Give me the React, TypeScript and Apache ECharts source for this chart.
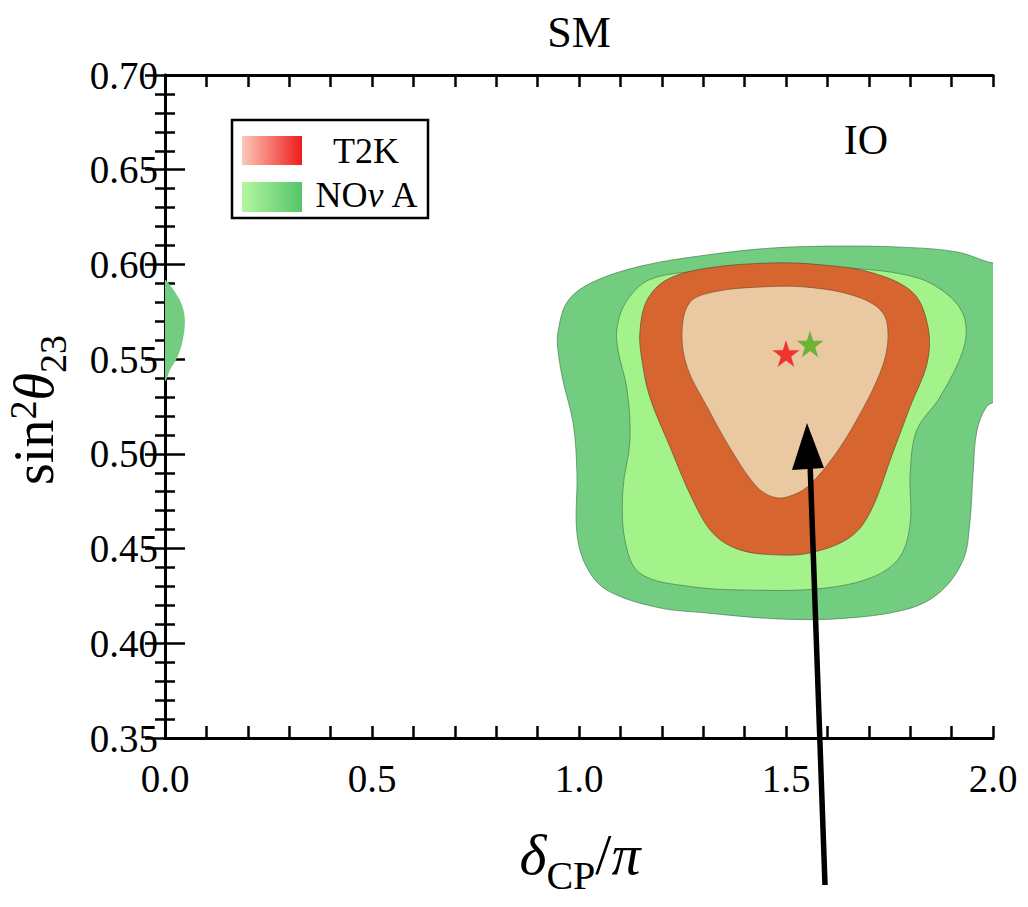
import React, { useEffect, useRef } from 'react';
import * as echarts from 'echarts';

const FONT = '"Liberation Serif", "DejaVu Serif", serif';

// Axis ranges and ticks
const xMin = 0, xMax = 2, xInterval = 0.5;
const yMin = 0.35, yMax = 0.70, yInterval = 0.05;

// Contours (delta_CP/pi, sin^2 theta_23)
const novaOuter: [number, number][] = [
  [0.949, 0.564], [0.949, 0.555], [0.961, 0.539], [0.986, 0.516], [0.995, 0.490],
  [0.995, 0.458], [1.019, 0.440], [1.068, 0.428], [1.188, 0.419], [1.309, 0.416],
  [1.469, 0.413], [1.630, 0.413], [1.792, 0.418], [1.872, 0.427], [1.928, 0.444],
  [1.944, 0.4635], [1.952, 0.490], [1.961, 0.512], [1.985, 0.525], [2.02, 0.530],
  [2.045, 0.565], [2.03, 0.598], [1.985, 0.6015], [1.913, 0.6066], [1.792, 0.609],
  [1.630, 0.6097], [1.469, 0.6087], [1.309, 0.605], [1.147, 0.599], [1.027, 0.590],
  [0.971, 0.580],
];
const novaWrapLeft: [number, number][] = [
  [-0.01, 0.592], [0.0, 0.592], [0.024, 0.5855], [0.041, 0.5786], [0.048, 0.5707],
  [0.043, 0.560], [0.029, 0.5506], [0.012, 0.5443], [0.0, 0.538], [-0.01, 0.538],
];
const novaInner: [number, number][] = [
  [1.094, 0.555], [1.092, 0.567], [1.116, 0.581], [1.171, 0.592], [1.292, 0.5965],
  [1.469, 0.598], [1.655, 0.598], [1.816, 0.593], [1.896, 0.583], [1.932, 0.571],
  [1.928, 0.555], [1.872, 0.530], [1.816, 0.5126], [1.800, 0.490], [1.800, 0.4635],
  [1.775, 0.4456], [1.710, 0.435], [1.589, 0.429], [1.430, 0.428], [1.268, 0.430],
  [1.147, 0.437], [1.111, 0.4545], [1.106, 0.481], [1.123, 0.507], [1.116, 0.534],
];
const t2kOuter: [number, number][] = [
  [1.152, 0.5495], [1.147, 0.564], [1.164, 0.581], [1.213, 0.592], [1.309, 0.598],
  [1.469, 0.6008], [1.589, 0.5997], [1.710, 0.5955], [1.807, 0.585], [1.843, 0.567],
  [1.841, 0.548], [1.800, 0.525], [1.758, 0.5005], [1.703, 0.469], [1.655, 0.456],
  [1.565, 0.448], [1.486, 0.4466], [1.389, 0.4493], [1.324, 0.458], [1.275, 0.4756],
  [1.220, 0.5036], [1.171, 0.530],
];
const t2kInner: [number, number][] = [
  [1.261, 0.546], [1.249, 0.565], [1.268, 0.580], [1.324, 0.5854], [1.430, 0.588],
  [1.551, 0.588], [1.671, 0.583], [1.734, 0.5744], [1.746, 0.560], [1.727, 0.5427],
  [1.671, 0.518], [1.614, 0.4983], [1.551, 0.4825], [1.502, 0.4772], [1.469, 0.4772],
  [1.430, 0.4825], [1.372, 0.5005], [1.309, 0.525],
];

// Best-fit points
const bestT2K: [number, number][] = [[1.500, 0.553]];
const bestNOvA: [number, number][] = [[1.558, 0.558]];

const legendNames = ['T2K', 'NO{nu|ν} A'];

const STAR = 'path://M50,0 L61.2,34.5 L97.6,34.5 L68.2,55.9 L79.4,90.5 L50,69.1 L20.6,90.5 L31.8,55.9 L2.4,34.5 L38.8,34.5 Z';

function polySeries(pts: [number, number][], fill: string, stroke: string, z: number) {
  return {
    type: 'custom',
    coordinateSystem: 'cartesian2d',
    clip: true,
    silent: true,
    z,
    data: [pts[0]],
    renderItem: (_params: any, api: any) => ({
      type: 'polygon',
      shape: { points: pts.map((p) => api.coord(p)), smooth: 0.35 },
      style: { fill, stroke, lineWidth: 1 },
    }),
  };
}

const axisCommon = {
  axisLine: { show: true, lineStyle: { color: '#000', width: 3 } },
  splitLine: { show: false },
};

export default function App() {
  const ref = useRef<HTMLDivElement>(null);
  useEffect(() => {
    document.body.style.margin = '0';
    const chart = echarts.init(ref.current!, null, { renderer: 'svg' });
    const option: any = {
      animation: false,
      backgroundColor: '#fff',
      grid: { left: 165, top: 75, right: 35, bottom: 169, containLabel: false },
      xAxis: [
        {
          type: 'value', min: xMin, max: xMax, interval: xInterval, position: 'bottom',
          ...axisCommon,
          axisTick: { show: true, inside: true, length: 12, lineStyle: { color: '#000', width: 2.5 } },
          minorTick: { show: true, splitNumber: 5, length: 12, lineStyle: { color: '#000', width: 2.5 } },
          axisLabel: { formatter: (v: number) => v.toFixed(1), fontSize: 39, fontFamily: FONT, color: '#000', margin: 21 },
        },
        {
          type: 'value', min: xMin, max: xMax, interval: xInterval, position: 'top',
          ...axisCommon,
          axisTick: { show: true, inside: true, length: 12, lineStyle: { color: '#000', width: 2.5 } },
          minorTick: { show: true, splitNumber: 5, length: 12, lineStyle: { color: '#000', width: 2.5 } },
          axisLabel: { show: false },
        },
      ],
      yAxis: [
        {
          type: 'value', min: yMin, max: yMax, interval: yInterval, position: 'left',
          ...axisCommon,
          axisTick: { show: true, inside: true, length: 20, lineStyle: { color: '#000', width: 2.5 } },
          minorTick: { show: true, splitNumber: 5, length: 10, lineStyle: { color: '#000', width: 2.5 } },
          axisLabel: { formatter: (v: number) => v.toFixed(2), fontSize: 39, fontFamily: FONT, color: '#000', margin: 7 },
        },
        {
          type: 'value', min: yMin, max: yMax, interval: yInterval, position: 'right',
          ...axisCommon,
          axisTick: { show: true, inside: true, length: 20, lineStyle: { color: '#000', width: 2.5 } },
          minorTick: { show: true, splitNumber: 5, length: 10, lineStyle: { color: '#000', width: 2.5 } },
          axisLabel: { show: false },
        },
      ],
      series: [
        polySeries(novaOuter, '#72cd80', 'rgba(60,110,70,0.6)', 1),
        polySeries(novaWrapLeft, '#72cd80', 'rgba(60,110,70,0.0)', 1),
        polySeries(novaInner, '#a4f28a', 'rgba(60,110,70,0.6)', 2),
        polySeries(t2kOuter, '#d7652f', 'rgba(90,60,40,0.6)', 3),
        polySeries(t2kInner, '#eac8a2', 'rgba(90,60,40,0.5)', 4),
        {
          type: 'scatter', data: bestT2K, symbol: STAR, symbolSize: 27, z: 10, silent: true,
          itemStyle: { color: '#f01010' },
        },
        {
          type: 'scatter', data: bestNOvA, symbol: STAR, symbolSize: 27, z: 10, silent: true,
          itemStyle: { color: '#4fac1c' },
        },
      ],
      graphic: [
        { type: 'text', x: 579, y: 32, z: 100, style: { text: 'SM', font: `44px ${FONT}`, fill: '#000', align: 'center', verticalAlign: 'middle' } },
        { type: 'text', x: 866, y: 140, z: 100, style: { text: 'IO', font: `42px ${FONT}`, fill: '#000', align: 'center', verticalAlign: 'middle' } },
        // legend
        { type: 'rect', z: 100, shape: { x: 232, y: 120, width: 196, height: 98 }, style: { fill: '#fff', stroke: '#000', lineWidth: 2.5 } },
        {
          type: 'rect', z: 101, shape: { x: 242, y: 136, width: 60, height: 29 },
          style: { fill: new echarts.graphic.LinearGradient(0, 0, 1, 0, [{ offset: 0, color: '#fbc9b8' }, { offset: 1, color: '#f01c1c' }]) },
        },
        {
          type: 'rect', z: 101, shape: { x: 242, y: 182, width: 60, height: 30 },
          style: { fill: new echarts.graphic.LinearGradient(0, 0, 1, 0, [{ offset: 0, color: '#b4f7a0' }, { offset: 1, color: '#55c46a' }]) },
        },
        { type: 'text', x: 366, y: 151, z: 101, style: { text: legendNames[0], font: `36px ${FONT}`, fill: '#000', align: 'center', verticalAlign: 'middle' } },
        {
          type: 'text', x: 367, y: 195, z: 101,
          style: {
            text: legendNames[1], font: `36px ${FONT}`, fill: '#000', align: 'center', verticalAlign: 'middle',
            rich: { nu: { font: `italic 36px ${FONT}`, fill: '#000' } },
          },
        },
        // axis names
        {
          type: 'text', x: 580, y: 848, z: 100,
          style: {
            text: '{d|δ}{s|CP}{n|/}{d|π}', align: 'center', verticalAlign: 'middle',
            rich: {
              d: { font: `italic 58px ${FONT}`, fill: '#000', lineHeight: 70, verticalAlign: 'bottom' },
              n: { font: `58px ${FONT}`, fill: '#000', lineHeight: 70, verticalAlign: 'bottom' },
              s: { font: `40px ${FONT}`, fill: '#000', lineHeight: 70, verticalAlign: 'bottom', padding: [0, 0, -12, 0] },
            },
          },
        },
        {
          type: 'text', x: 33, y: 410, rotation: Math.PI / 2, z: 100,
          style: {
            text: '{a|sin}{p|2}{t|θ}{s|23}', align: 'center', verticalAlign: 'middle',
            rich: {
              a: { font: `56px ${FONT}`, fill: '#000', lineHeight: 58, verticalAlign: 'bottom' },
              t: { font: `italic 56px ${FONT}`, fill: '#000', lineHeight: 58, verticalAlign: 'bottom' },
              p: { font: `38px ${FONT}`, fill: '#000', lineHeight: 36, verticalAlign: 'top' },
              s: { font: `38px ${FONT}`, fill: '#000', lineHeight: 58, verticalAlign: 'bottom', padding: [0, 0, -10, 0] },
            },
          },
        },
        // arrow
        { type: 'line', z: 100, shape: { x1: 825, y1: 885, x2: 810, y2: 462 }, style: { stroke: '#000', lineWidth: 5.5 } },
        { type: 'polygon', z: 100, shape: { points: [[807, 423], [792, 470], [824, 468]] }, style: { fill: '#000' } },
      ],
    };
    chart.setOption(option);
    return () => chart.dispose();
  }, []);
  return <div ref={ref} style={{ width: 1028, height: 907 }} />;
}
